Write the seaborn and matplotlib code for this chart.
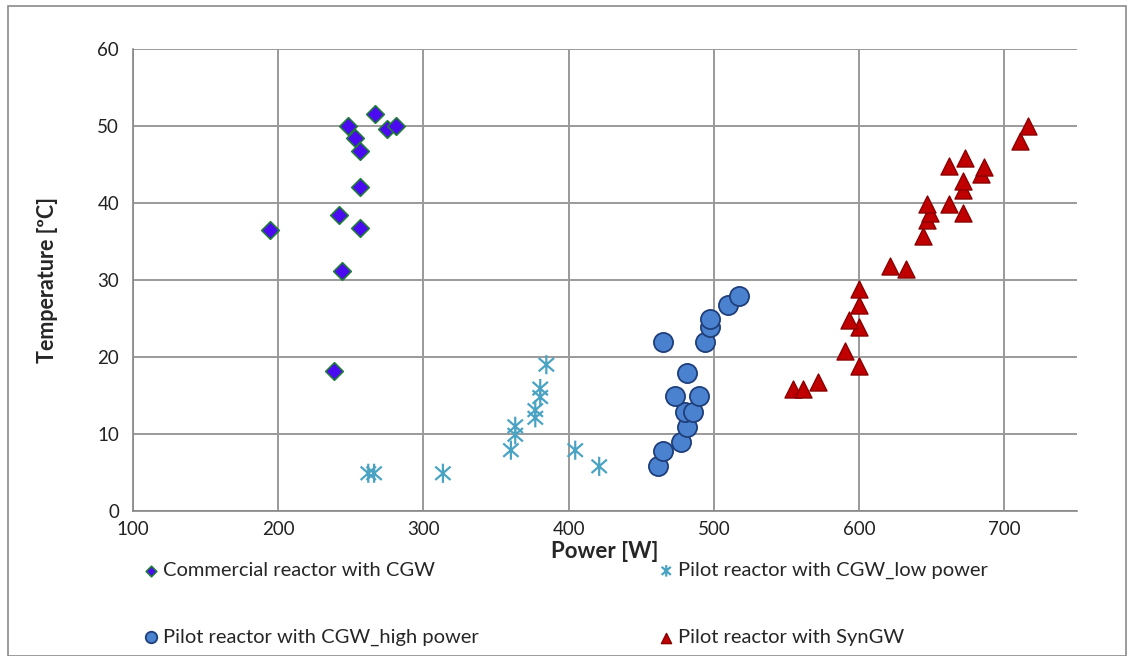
import numpy as np
import pandas as pd
import matplotlib
matplotlib.use("Agg")
import matplotlib.pyplot as plt
from matplotlib.path import Path
from matplotlib.patches import Rectangle
import seaborn as sns

# ---------------- data ----------------
commercial_x = [194.4, 238.5, 242, 244, 248.3, 253, 256, 256, 256, 266.7, 274.7, 281]
commercial_y = [36.5, 18.2, 38.5, 31.2, 50.0, 48.5, 46.7, 42.1, 36.8, 51.6, 49.6, 50.0]

low_x = [262, 266, 313.4, 360.2, 363.2, 363.2, 377, 377, 380.4, 380.4, 384.6, 404.5, 421]
low_y = [4.9, 4.9, 4.9, 7.9, 9.9, 11.0, 12.1, 13.1, 14.8, 15.9, 19.0, 7.9, 5.8]

high_x = [461.5, 465, 477, 481.4, 480.3, 485.6, 473.4, 489.5, 481.4, 465, 494, 497.5, 497.5, 509.7, 517]
high_y = [5.8, 7.8, 8.9, 10.9, 12.9, 12.9, 14.9, 14.9, 17.9, 21.9, 21.9, 23.9, 25.0, 26.8, 27.9]

syn_x = [554.5, 561.4, 572, 599.7, 590, 599.7, 593.3, 599.7, 599.7, 621, 632.6, 644, 646.8,
         648.6, 646.8, 661.7, 671.6, 671.6, 671.6, 683.6, 685.8, 661.7, 672.8, 711, 716]
syn_y = [15.9, 15.9, 16.7, 18.8, 20.8, 23.9, 24.8, 26.8, 28.8, 31.8, 31.4, 35.7, 37.8,
         38.7, 39.9, 39.9, 38.7, 41.7, 42.9, 43.8, 44.7, 44.8, 45.8, 48.1, 50.0]

labels = ["Commercial reactor with CGW", "Pilot reactor with CGW_low power",
          "Pilot reactor with CGW_high power", "Pilot reactor with SynGW"]
x_ticks = [100, 200, 300, 400, 500, 600, 700]
y_ticks = [0, 10, 20, 30, 40, 50, 60]

# ---------------- style ----------------
sns.set_theme(style="white")
plt.rcParams["font.family"] = ["Lato", "DejaVu Sans"]

fig = plt.figure(figsize=(11.34, 6.56), dpi=100)
ax = fig.add_axes([133/1134, 1-511/656, (1077-133)/1134, (511-49)/656])

# asterisk marker: vertical line + X
ast = Path([(0, -1), (0, 1), (-0.8, -0.7), (0.8, 0.7), (-0.8, 0.7), (0.8, -0.7)],
           [Path.MOVETO, Path.LINETO, Path.MOVETO, Path.LINETO, Path.MOVETO, Path.LINETO])

df_c = pd.DataFrame({"x": commercial_x, "y": commercial_y})
df_l = pd.DataFrame({"x": low_x, "y": low_y})
df_h = pd.DataFrame({"x": high_x, "y": high_y})
df_s = pd.DataFrame({"x": syn_x, "y": syn_y})

sns.scatterplot(data=df_c, x="x", y="y", ax=ax, marker="D", s=80,
                color="#4B0BF0", edgecolor="#1E7B3A", linewidth=1.2, label=labels[0], zorder=3)
sns.scatterplot(data=df_h, x="x", y="y", ax=ax, marker="o", s=190,
                color="#4A82D0", edgecolor="#1F3F7A", linewidth=1.3, label=labels[2], zorder=3)
sns.scatterplot(data=df_l, x="x", y="y", ax=ax, marker=ast, s=190,
                facecolor="none", edgecolor="#4AA3C3", color="#4AA3C3", linewidth=1.6,
                label=labels[1], zorder=3)
sns.scatterplot(data=df_s, x="x", y="y", ax=ax, marker="^", s=150,
                color="#C00000", edgecolor="#8B0000", linewidth=1.0, label=labels[3], zorder=3)

ax.set_xlim(100, 750)
ax.set_ylim(0, 60)
ax.set_xticks(x_ticks)
ax.set_yticks(y_ticks)
ax.tick_params(axis="both", labelsize=13.5, colors="#222222", length=5, width=1,
               direction="out", color="#888888")
ax.tick_params(axis="x", pad=2)
ax.tick_params(axis="y", pad=5)
ax.grid(True, color="#9a9a9a", linewidth=1.4)
ax.set_axisbelow(True)
for sp in ["top", "right"]:
    ax.spines[sp].set_visible(False)
for sp in ["left", "bottom"]:
    ax.spines[sp].set_color("#888888")
    ax.spines[sp].set_linewidth(1.2)

ax.set_xlabel("Power [W]", fontsize=16, fontweight="bold", labelpad=2)
ax.set_ylabel("Temperature [ºC]", fontsize=15.5, fontweight="bold", labelpad=28)

ax.legend_.remove()
handles, labs = ax.get_legend_handles_labels()
order = [labs.index(labels[0]), labs.index(labels[2]), labs.index(labels[1]), labs.index(labels[3])]
fig.legend([handles[i] for i in order], [labs[i] for i in order],
           loc="upper left", bbox_to_anchor=(135/1134, 1-554/656), ncol=2,
           frameon=False, fontsize=14.5, labelspacing=2.45, columnspacing=8.9,
           handletextpad=0.2, handlelength=0.8, borderaxespad=0, markerscale=0.6)

fig.patches.append(Rectangle((8/1134, 0.5/656), 1118/1134, 650/656, transform=fig.transFigure,
                             fill=False, edgecolor="#8a8a8a", linewidth=1.2))

fig.savefig("out.png", dpi=100)
